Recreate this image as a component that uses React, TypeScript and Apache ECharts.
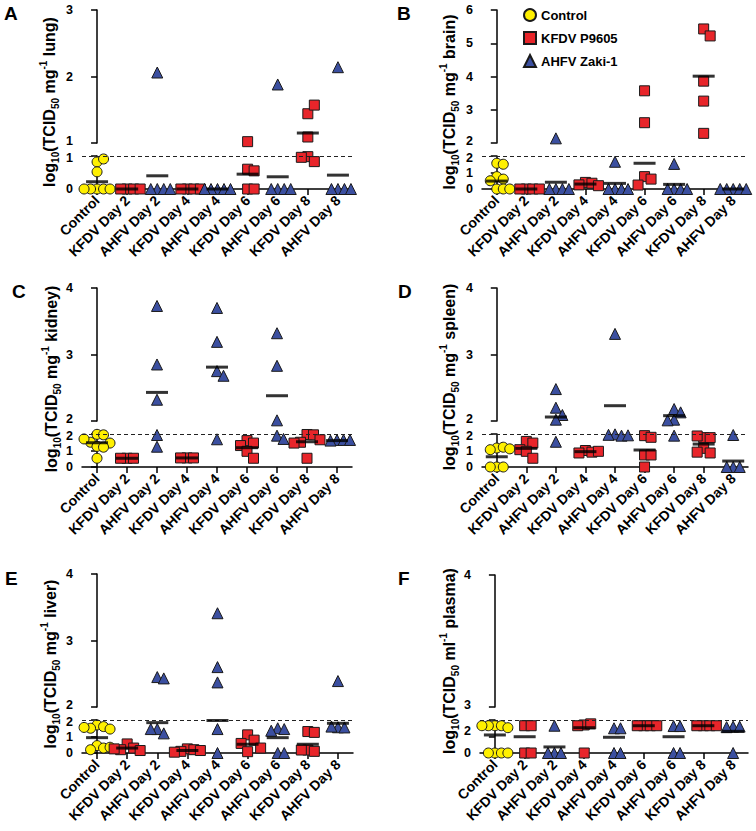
import React, { useEffect, useRef } from "react";
import * as echarts from "echarts";

const categories = [
  "Control", "KFDV Day 2", "AHFV Day 2", "KFDV Day 4", "AHFV Day 4",
  "KFDV Day 6", "AHFV Day 6", "KFDV Day 8", "AHFV Day 8",
];
const groupNames = ["Control", "KFDV P9605", "AHFV Zaki-1"];

// A – lung
const lungValues: number[][] = [
  [0, 0, 0, 0, 0, 0.82, 0.52, 0.91],
  [0, 0, 0, 0],
  [0, 0, 0, 0, 2.06],
  [0, 0, 0, 0],
  [0, 0, 0, 0, 0],
  [1.02, 0.6, 0.55, 0, 0],
  [0, 0, 0, 0, 1.88],
  [1.44, 1.57, 1.09, 0.98, 0.83, 0.96],
  [0, 0, 0, 0, 2.14],
];
const lungMeans = [0.22, 0, 0.4, 0, 0, 0.45, 0.37, 1.15, 0.42];

// B – brain
const brainValues: number[][] = [
  [1.56, 1.5, 0.75, 0.6, 0.5, 0, 0, 0],
  [0, 0, 0, 0],
  [0, 0, 0, 0, 2.14],
  [0.4, 0.35, 0.25, 0.2],
  [0, 0, 0, 0, 1.65],
  [3.57, 2.61, 0.75, 0.6, 0.24],
  [0, 0, 0, 0, 1.52],
  [5.43, 5.22, 3.86, 3.26, 2.29],
  [0, 0, 0, 0, 0],
];
const brainMeans = [0.48, 0, 0.41, 0.3, 0.34, 1.56, 0.28, 4.01, 0];

// C – kidney
const kidneyValues: number[][] = [
  [1.98, 1.95, 1.5, 1.45, 1.25, 1.2, 1.7, 0.53],
  [0.53, 0.53, 0.53],
  [3.73, 2.85, 2.32, 1.94, 1.23],
  [0.55, 0.55, 0.55],
  [3.7, 3.19, 2.75, 2.68, 1.68],
  [1.6, 1.45, 1.3, 0.95, 0.53],
  [3.32, 2.83, 2.01, 1.9, 1.7],
  [1.97, 1.95, 1.5, 1.65, 1.45, 0.53],
  [1.64, 1.64, 1.6, 1.64],
];
const kidneyMeans = [1.47, 0.53, 2.43, 0.55, 2.81, 1.17, 2.38, 1.53, 1.6];

// D – spleen
const spleenValues: number[][] = [
  [1.15, 1.2, 1.05, 1.1, 0, 0, 0],
  [1.55, 1.45, 1.05, 0.95, 0.53],
  [2.48, 2.2, 2.09, 2.02, 1.53],
  [1.0, 0.9, 0.85, 0.95],
  [3.31, 1.98, 1.9, 1.95, 1.92],
  [1.9, 1.8, 0.73, 0.73, 0],
  [2.18, 2.13, 2.02, 2.01, 1.9],
  [1.78, 1.78, 1.88, 1.13, 0.85, 0.9],
  [1.94, 0, 0, 0],
];
const spleenMeans = [0.62, 1.13, 2.06, 0.93, 2.23, 1.03, 2.08, 1.39, 0.36];

// E – liver
const liverValues: number[][] = [
  [1.7, 1.6, 1.5, 1.45, 1.55, 0.45, 0.3, 0.2, 0.35],
  [0.55, 0.3, 0.2, 0.15, 0.25],
  [2.45, 2.43, 1.45, 1.19, 1.45],
  [0.25, 0.2, 0.1, 0.15, 0.05],
  [3.41, 2.6, 2.37, 1.45, 0],
  [1.1, 0.78, 0.58, 0.08, 0.3],
  [1.5, 1.45, 1.35, 0, 0],
  [1.3, 1.25, 0.18, 0.1, 0.18],
  [2.39, 1.56, 1.55, 1.6],
];
const liverMeans = [0.93, 0.3, 1.84, 0.15, 1.97, 0.53, 0.93, 0.53, 1.8];

// F – plasma
const plasmaValues: number[][] = [
  [2.48, 2.48, 2.48, 2.3, 2.48, 0, 0, 0, 0],
  [2.48, 2.48, 0, 0],
  [2.48, 0, 0, 0],
  [2.55, 2.65, 2.48, 0],
  [2.25, 2.25, 0, 0],
  [2.48, 2.48, 2.48, 2.48],
  [2.45, 2.45, 0, 0],
  [2.48, 2.48, 2.48, 2.48],
  [2.4, 2.4, 2.35, 0],
];
const plasmaMeans = [1.64, 1.48, 0.55, 2.3, 1.43, 2.48, 1.48, 2.48, 1.97];

// Broken-axis ranges and tick labels per panel
const lungAxis = { lower: [0, 1], upper: [1, 3], lowTicks: [0, 1], lowLabels: [0, 1], upTicks: [1, 2, 3] };
const brainAxis = { lower: [0, 2], upper: [2, 6], lowTicks: [0, 1, 2], lowLabels: [0, 1, 2], upTicks: [2, 3, 4, 5, 6] };
const kidneyAxis = { lower: [0, 2], upper: [2, 4], lowTicks: [0, 1, 2], lowLabels: [0, 1, 2], upTicks: [2, 3, 4] };
const spleenAxis = kidneyAxis;
const liverAxis = kidneyAxis;
const plasmaAxis = { lower: [0, 3], upper: [3, 4], lowTicks: [0, 1.5, 3], lowLabels: [0, 2], upTicks: [3, 4] };

const panelsData = [
  { letter: "A", organ: "mg", unitTail: " lung)", values: lungValues, means: lungMeans, axis: lungAxis },
  { letter: "B", organ: "mg", unitTail: " brain)", values: brainValues, means: brainMeans, axis: brainAxis },
  { letter: "C", organ: "mg", unitTail: " kidney)", values: kidneyValues, means: kidneyMeans, axis: kidneyAxis },
  { letter: "D", organ: "mg", unitTail: " spleen)", values: spleenValues, means: spleenMeans, axis: spleenAxis },
  { letter: "E", organ: "mg", unitTail: " liver)", values: liverValues, means: liverMeans, axis: liverAxis },
  { letter: "F", organ: "ml", unitTail: " plasma)", values: plasmaValues, means: plasmaMeans, axis: plasmaAxis },
];

// Layout (pixels)
const layout = [
  { left: 82, width: 271, upTop: 10, upH: 133, lowTop: 156, lowH: 33, letterX: 4, letterY: 4, titleX: 49, titleY: 102 },
  { left: 482, width: 266, upTop: 10, upH: 133, lowTop: 156, lowH: 33, letterX: 397, letterY: 4, titleX: 449, titleY: 102 },
  { left: 82, width: 270, upTop: 288, upH: 133, lowTop: 434, lowH: 33, letterX: 12, letterY: 282, titleX: 51, titleY: 379 },
  { left: 482, width: 266, upTop: 288, upH: 133, lowTop: 434, lowH: 33, letterX: 398, letterY: 282, titleX: 449, titleY: 377 },
  { left: 82, width: 271, upTop: 574, upH: 133, lowTop: 720, lowH: 33, letterX: 5, letterY: 569, titleX: 50, titleY: 664 },
  { left: 480, width: 268, upTop: 575, upH: 132, lowTop: 720, lowH: 33, letterX: 398, letterY: 569, titleX: 449, titleY: 661 },
];

const COLORS = ["#fff000", "#e8252a", "#3b4fa0"];
const SYMBOLS = ["circle", "rect", "triangle"];
const SIZES = [10, 10, 11];
const FONT = "Liberation Sans, Arial, Helvetica, sans-serif";

function groupOf(i: number) {
  return i === 0 ? 0 : i % 2 === 1 ? 1 : 2;
}

// simple beeswarm: horizontal pixel offsets so markers don't overlap too much
function swarm(ys: number[], minDx: number, minDy: number): number[] {
  const placed: { x: number; y: number }[] = [];
  return ys.map((y) => {
    let best = 0;
    for (let k = 0; k < 400; k++) {
      const cand = k === 0 ? 0 : (k % 2 ? 1 : -1) * Math.ceil(k / 2) * 0.5;
      if (placed.every((p) => Math.abs(p.x - cand) >= minDx || Math.abs(p.y - y) >= minDy)) {
        best = cand;
        break;
      }
    }
    placed.push({ x: best, y });
    return best;
  });
}

function buildOption() {
  const grid: any[] = [];
  const xAxis: any[] = [];
  const yAxis: any[] = [];
  const series: any[] = [];
  const graphic: any[] = [];
  const axisLineStyle = { color: "#000", width: 1.5 };
  const tok = { color: "#000", fontWeight: "bold", fontSize: 12.5, fontFamily: FONT };
  const labelStyle = { ...tok, lineHeight: 12 };

  panelsData.forEach((pd, p) => {
    const L = layout[p];
    const ax = pd.axis;
    const lowMax = ax.lower[1];
    const upMin = ax.upper[0];
    const upMax = ax.upper[1];
    const upIdx = p * 2;
    const lowIdx = p * 2 + 1;
    grid.push({ left: L.left, top: L.upTop, width: L.width, height: L.upH });
    grid.push({ left: L.left, top: L.lowTop, width: L.width, height: L.lowH });

    xAxis.push({ gridIndex: upIdx, type: "value", min: -0.5, max: 8.5, show: false });
    xAxis.push({
      gridIndex: lowIdx, type: "value", min: -0.5, max: 8.5,
      axisLine: { show: true, onZero: false, lineStyle: axisLineStyle },
      axisTick: { show: true, length: 6, customValues: [0, 1, 2, 3, 4, 5, 6, 7, 8], lineStyle: axisLineStyle },
      axisLabel: {
        customValues: [0, 1, 2, 3, 4, 5, 6, 7, 8],
        formatter: (v: number) => categories[Math.round(v)] ?? "",
        rotate: 45, margin: 9, color: "#000", fontWeight: "bold", fontSize: 14, fontFamily: FONT,
      },
      splitLine: { show: false },
    });
    yAxis.push({
      gridIndex: upIdx, type: "value", min: upMin, max: upMax,
      axisLine: { show: true, lineStyle: axisLineStyle },
      axisTick: { show: true, length: 6, customValues: ax.upTicks, lineStyle: axisLineStyle },
      axisLabel: {
        customValues: ax.upTicks, margin: 9, ...labelStyle,
        formatter: (v: number) => (v === upMin ? `{e|${v}}` : `${v}`),
        rich: { e: { ...tok, lineHeight: 12, padding: [0, 0, 4, 0] } },
      },
      splitLine: { show: false },
    });
    yAxis.push({
      gridIndex: lowIdx, type: "value", min: 0, max: lowMax,
      axisLine: { show: true, lineStyle: axisLineStyle },
      axisTick: { show: true, length: 6, customValues: ax.lowTicks, lineStyle: axisLineStyle },
      axisLabel: {
        customValues: ax.lowLabels, margin: 9, ...labelStyle,
        formatter: (v: number) => (v === lowMax ? `{e|${v}}` : `${v}`),
        rich: { e: { ...tok, lineHeight: 12, padding: [4, 0, 0, 0] } },
      },
      splitLine: { show: false },
    });

    const toPx = (v: number) =>
      v <= lowMax
        ? L.lowTop + L.lowH - (v / lowMax) * L.lowH
        : L.upTop + L.upH - ((v - upMin) / (upMax - upMin)) * L.upH;
    const pxPerCat = L.width / 9;

    const buckets: any[][][] = [[[], []], [[], []], [[], []]]; // [group][segment 0 up / 1 low]
    const meanBuckets: any[][] = [[], []];
    pd.values.forEach((vals, i) => {
      const g = groupOf(i);
      const offs = swarm(vals.map(toPx), 6.5, 9.5);
      vals.forEach((v, j) => {
        const seg = v <= lowMax ? 1 : 0;
        buckets[g][seg].push([i + offs[j] / pxPerCat, v]);
      });
      const m = pd.means[i];
      meanBuckets[m <= lowMax ? 1 : 0].push([i, m]);
    });

    // dashed limit line
    series.push({
      type: "scatter", xAxisIndex: lowIdx, yAxisIndex: lowIdx, data: [[0, 0]], symbolSize: 0,
      silent: true, z: 1,
      markLine: {
        silent: true, symbol: ["none", "none"], label: { show: false },
        lineStyle: { type: [4, 3], color: "#222", width: 1 },
        data: [{ yAxis: lowMax }],
      },
    });
    [0, 1, 2].forEach((g) => {
      [0, 1].forEach((seg) => {
        const gi = seg === 0 ? upIdx : lowIdx;
        series.push({
          type: "scatter", name: groupNames[g], xAxisIndex: gi, yAxisIndex: gi,
          data: buckets[g][seg], symbol: SYMBOLS[g], symbolSize: SIZES[g], clip: false, z: 3,
          itemStyle: { color: COLORS[g], borderColor: "#1a1a1a", borderWidth: 1, opacity: 1 },
        });
      });
    });
    [0, 1].forEach((seg) => {
      const gi = seg === 0 ? upIdx : lowIdx;
      series.push({
        type: "scatter", xAxisIndex: gi, yAxisIndex: gi, data: meanBuckets[seg],
        symbol: "rect", symbolSize: [22, 3], clip: false, z: 5,
        itemStyle: { color: "#000" },
      });
    });

    graphic.push({
      type: "text", left: L.letterX, top: L.letterY,
      style: { text: pd.letter, font: `bold 19px ${FONT}`, fill: "#000" },
    });
    graphic.push({
      type: "text", x: L.titleX, y: L.titleY, rotation: Math.PI / 2,
      style: {
        text: `log{s|10}(TCID{s|50} ${pd.organ}{p|-1}${pd.unitTail}`,
        fontFamily: FONT, fontWeight: "bold", fontSize: 16, lineHeight: 22, fill: "#000",
        align: "center", verticalAlign: "middle",
        rich: {
          s: { fontFamily: FONT, fontWeight: "bold", fontSize: 10, lineHeight: 10, verticalAlign: "bottom", fill: "#000" },
          p: { fontFamily: FONT, fontWeight: "bold", fontSize: 10, lineHeight: 10, verticalAlign: "top", fill: "#000" },
        },
      },
    });
  });

  return {
    animation: false,
    backgroundColor: "#fff",
    textStyle: { fontFamily: FONT },
    legend: {
      orient: "vertical", left: 518, top: 3, itemWidth: 12, itemHeight: 12, itemGap: 9,
      selectedMode: false,
      textStyle: { color: "#000", fontWeight: "bold", fontSize: 13, fontFamily: FONT },
      data: [
        { name: "Control", icon: "circle" },
        { name: "KFDV P9605", icon: "rect" },
        { name: "AHFV Zaki-1", icon: "triangle" },
      ],
    },
    grid, xAxis, yAxis, series, graphic,
  };
}

export default function App() {
  const ref = useRef<HTMLDivElement>(null);
  useEffect(() => {
    if (!ref.current) return;
    const chart = echarts.init(ref.current, undefined, { renderer: "svg" });
    chart.setOption(buildOption() as any);
    return () => chart.dispose();
  }, []);
  return (
    <div
      ref={ref}
      style={{ position: "fixed", left: 0, top: 0, width: 756, height: 831, background: "#fff" }}
    />
  );
}
